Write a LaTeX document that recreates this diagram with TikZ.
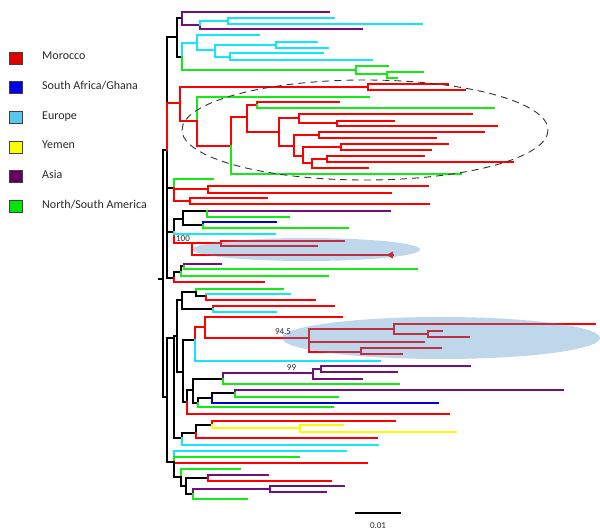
\documentclass[tikz,border=0pt]{standalone}
\usepackage{fontspec}
\setmainfont{Carlito}
\definecolor{tRed}{RGB}{255,0,0}
\definecolor{tGreen}{RGB}{20,235,20}
\definecolor{tCyan}{RGB}{20,230,250}
\definecolor{tPurple}{RGB}{112,16,122}
\definecolor{tBlue}{RGB}{0,0,210}
\definecolor{tYellow}{RGB}{255,250,0}
\definecolor{LRed}{RGB}{225,0,0}
\definecolor{LBlue}{RGB}{0,0,230}
\definecolor{LEurope}{RGB}{85,200,235}
\definecolor{LYellow}{RGB}{255,255,0}
\definecolor{LAsia}{RGB}{100,0,100}
\definecolor{LGreen}{RGB}{0,230,0}
\definecolor{txt}{RGB}{40,40,40}
\definecolor{ellfill}{RGB}{69,141,198}
\newcommand\treebr[5]{\coordinate (#3) at (#4,#5);\draw[#1] (#2) |- (#3);}
\begin{document}
\begin{tikzpicture}[x=1pt,y=-1pt,
  tbranch/.style={line width=1.8pt,line cap=rect},
  kB/.style={tbranch,draw=black},
  kR/.style={tbranch,draw=tRed},
  kG/.style={tbranch,draw=tGreen},
  kC/.style={tbranch,draw=tCyan},
  kP/.style={tbranch,draw=tPurple},
  kBl/.style={tbranch,draw=tBlue},
  kY/.style={tbranch,draw=tYellow},
  sq/.style={draw=black!75,line width=0.7pt,minimum width=13pt,minimum height=12pt,inner sep=0pt},
  lg/.style={anchor=base west,font=\fontsize{12}{14}\selectfont,text=txt,inner sep=0pt},
  num/.style={font=\fontsize{9}{10}\selectfont,text=txt,inner sep=0pt},
  hl/.style={fill=ellfill,fill opacity=0.35,draw=none}]
\useasboundingbox (0,0) rectangle (600,532);
% ---------- legend ----------
\node[sq,fill=LRed]    (sq1) at (15.8,58.2) {};
\node[sq,fill=LBlue]   (sq2) at (15.8,87.8) {};
\node[sq,fill=LEurope] (sq3) at (15.8,117.5) {};
\node[sq,fill=LYellow] (sq4) at (15.8,147.1) {};
\node[sq,fill=LAsia]   (sq5) at (15.8,176.8) {};
\node[sq,fill=LGreen]  (sq6) at (15.8,206.4) {};
\node[lg] (lg1) at (42,60) {Morocco};
\node[lg] (lg2) at (42,89.6) {South Africa/Ghana};
\node[lg] (lg3) at (42,119.3) {Europe};
\node[lg] (lg4) at (42,148.9) {Yemen};
\node[lg] (lg5) at (42,178.6) {Asia};
\node[lg] (lg6) at (42,208.2) {North/South America};
% ---------- trunk ----------
\coordinate (R) at (163,279);
\coordinate (R0) at (159,279);
\draw[kB] (R0) -- (R);
\treebr{kB}{R}{U}{167}{150}
\treebr{kB}{R}{D}{167}{397}
\treebr{kB}{U}{T}{177}{37}
\treebr{kB}{U}{M1}{174}{188}
\treebr{kB}{U}{M2}{174}{232}
\treebr{kB}{U}{L1}{174}{278}
\treebr{kR}{U}{RC}{180}{103}
% ---------- top clade ----------
\treebr{kB}{T}{T1}{182}{18}
\treebr{kB}{T}{T2}{182}{57}
\treebr{kP}{T1}{l1}{329}{12}
\treebr{kP}{T1}{T1a}{200}{25}
\treebr{kP}{T1a}{l3}{362}{29}
\treebr{kC}{T1a}{T1b}{228}{21}
\treebr{kC}{T1b}{l4}{334}{18}
\treebr{kC}{T1b}{l5}{422}{24}
\treebr{kC}{T2}{T2a}{197}{43}
\treebr{kG}{T2}{T2b}{356}{70}
\treebr{kC}{T2a}{l6}{259}{35}
\treebr{kC}{T2a}{T2c}{215}{50}
\treebr{kC}{T2c}{T2d}{276}{45}
\treebr{kC}{T2c}{T2e}{230}{57}
\treebr{kC}{T2d}{l7}{317}{42}
\treebr{kC}{T2d}{l8}{328}{48}
\treebr{kC}{T2e}{l9}{323}{53}
\treebr{kC}{T2e}{l10}{372}{60}
\treebr{kG}{T2b}{l11}{388}{66}
\treebr{kG}{T2b}{T2f}{387}{74}
\treebr{kG}{T2f}{l12}{423}{72}
\treebr{kG}{T2f}{l13}{397}{78}
% ---------- red clade ----------
\treebr{kR}{RC}{RC1}{368}{87}
\treebr{kR}{RC}{RC2}{197}{121}
\treebr{kR}{RC1}{l14}{448}{84}
\treebr{kR}{RC1}{l15}{465}{90}
\treebr{kG}{RC2}{l16}{369}{97}
\treebr{kR}{RC2}{RC3}{231}{146}
\treebr{kR}{RC3}{RC4}{247}{117}
\treebr{kG}{RC3}{l17}{461}{174}
\treebr{kR}{RC4}{RC4a}{257}{105}
\treebr{kR}{RC4}{RC5}{279}{132}
\treebr{kR}{RC4a}{l18}{339}{102}
\treebr{kG}{RC4a}{l19}{494}{108}
\treebr{kR}{RC5}{RC5a}{299}{118}
\treebr{kR}{RC5}{RC6}{294}{146}
\treebr{kR}{RC5a}{l20}{472}{114}
\treebr{kR}{RC5a}{RC5b}{337}{123}
\treebr{kR}{RC5b}{l21}{394}{121}
\treebr{kR}{RC5b}{l22}{497}{126}
\treebr{kR}{RC6}{RC6a}{319}{135}
\treebr{kR}{RC6}{RC7}{303}{156}
\treebr{kR}{RC6a}{l23}{484}{132}
\treebr{kR}{RC6a}{l24}{436}{138}
\treebr{kR}{RC7}{RC7a}{341}{147}
\treebr{kR}{RC7}{RC8}{312}{163}
\treebr{kR}{RC7a}{l25}{448}{144}
\treebr{kR}{RC7a}{l26}{431}{150}
\treebr{kR}{RC8}{RC8a}{327}{159}
\treebr{kR}{RC8}{l27}{368}{168}
\treebr{kR}{RC8a}{l28}{424}{156}
\treebr{kR}{RC8a}{l29}{513}{162}
% ---------- middle ----------
\treebr{kG}{M1}{l30}{213}{179}
\treebr{kR}{M1}{M1a}{208}{189}
\treebr{kR}{M1}{M1b}{190}{201}
\treebr{kR}{M1a}{l31}{428}{186}
\treebr{kR}{M1a}{l32}{391}{193}
\treebr{kR}{M1b}{l33}{267}{198}
\treebr{kR}{M1b}{l34}{429}{204}
\treebr{kB}{M2}{M2a}{183}{219}
\treebr{kR}{M2}{C100}{192}{243}
\treebr{kC}{M2}{l35}{275}{234}
\treebr{kB}{M2a}{M2b}{207}{211}
\treebr{kB}{M2a}{M2c}{203}{225}
\treebr{kP}{M2b}{l36}{390}{211}
\treebr{kG}{M2b}{l37}{289}{217}
\treebr{kBl}{M2c}{l38}{276}{222}
\treebr{kG}{M2c}{l39}{348}{228}
\treebr{kR}{C100}{C100a}{221}{243}
\treebr{kR}{C100}{l40}{393}{255}
\treebr{kR}{C100a}{l41}{344}{241}
\treebr{kR}{C100a}{l42}{317}{246}
\fill[tRed] (l40) -- ++(-7,0) -- ++(7,-3.5) -- cycle;
\fill[tRed] (l40) -- ++(-7,0) -- ++(7,3.5) -- cycle;
\treebr{kB}{L1}{L1a}{181}{272}
\treebr{kR}{L1}{l43}{264}{282}
\treebr{kB}{L1a}{L1b}{184}{266}
\treebr{kG}{L1a}{l44}{328}{276}
\treebr{kP}{L1b}{l45}{221}{264}
\treebr{kG}{L1b}{l46}{417}{269}
% ---------- lower ----------
\treebr{kB}{D}{D1}{174}{338}
\treebr{kB}{D}{D2}{174}{462}
\treebr{kB}{D1}{J}{177}{336}
\treebr{kB}{D1}{K}{182}{438}
\treebr{kB}{J}{E1}{182}{300}
\treebr{kB}{J}{I}{183}{372}
\treebr{kB}{E1}{E1a}{196}{292}
\treebr{kB}{E1}{E1b}{213}{309}
\treebr{kG}{E1a}{l47}{283}{289}
\treebr{kB}{E1a}{E1c}{206}{296}
\treebr{kC}{E1c}{l48}{290}{294}
\treebr{kR}{E1c}{l49}{315}{300}
\treebr{kR}{E1b}{l50}{334}{306}
\treebr{kC}{E1b}{l51}{276}{312}
\treebr{kB}{I}{F1}{195}{340}
\treebr{kB}{I}{H}{187}{402}
\treebr{kR}{F1}{F1a}{205}{327}
\treebr{kC}{F1}{l52}{380}{361}
\treebr{kR}{F1a}{l53}{342}{317}
\treebr{kR}{F1a}{E94}{309}{338}
\treebr{kR}{E94}{E94a}{394}{329}
\treebr{kR}{E94}{l54}{424}{342}
\treebr{kR}{E94}{E94b}{361}{352}
\treebr{kR}{E94a}{l55}{595}{324}
\treebr{kR}{E94a}{E94c}{428}{334}
\treebr{kR}{E94c}{l56}{442}{331}
\treebr{kR}{E94c}{l57}{469}{337}
\treebr{kR}{E94b}{l58}{441}{348}
\treebr{kR}{E94b}{l59}{402}{354}
\treebr{kB}{H}{G}{193}{390}
\treebr{kR}{H}{l60}{449}{414}
\treebr{kB}{G}{G1}{223}{379}
\treebr{kB}{G}{G2}{198}{403}
\treebr{kP}{G1}{P99}{313}{373}
\treebr{kG}{G1}{l61}{399}{384}
\treebr{kP}{P99}{P99a}{321}{369}
\treebr{kP}{P99}{l62}{362}{379}
\treebr{kP}{P99a}{l63}{470}{366}
\treebr{kP}{P99a}{l64}{397}{372}
\treebr{kB}{G2}{G2a}{212}{398}
\treebr{kG}{G2}{l65}{333}{407}
\treebr{kB}{G2a}{G2b}{235}{393}
\treebr{kBl}{G2a}{l66}{438}{403}
\treebr{kP}{G2b}{l67}{563}{390}
\treebr{kG}{G2b}{l68}{338}{397}
\treebr{kB}{K}{K1}{196}{433}
\treebr{kC}{K}{l69}{378}{445}
\treebr{kB}{K1}{K1a}{212}{425}
\treebr{kR}{K1}{l70}{377}{438}
\treebr{kR}{K1a}{l71}{395}{421}
\treebr{kY}{K1a}{Y}{300}{428}
\treebr{kY}{Y}{l72}{343}{425}
\treebr{kY}{Y}{l73}{456}{432}
\treebr{kC}{D2}{l74}{346}{451}
\treebr{kG}{D2}{l75}{299}{457}
\treebr{kR}{D2}{l76}{367}{463}
\treebr{kB}{D2}{D2a}{181}{477}
\treebr{kG}{D2a}{l77}{240}{469}
\treebr{kB}{D2a}{D2b}{186}{486}
\treebr{kB}{D2b}{D2c}{208}{478}
\treebr{kB}{D2b}{D2d}{193}{494}
\treebr{kP}{D2c}{l78}{268}{475}
\treebr{kR}{D2c}{l79}{331}{481}
\treebr{kP}{D2d}{D2e}{270}{489}
\treebr{kG}{D2d}{l80}{247}{499}
\treebr{kP}{D2e}{l81}{344}{486}
\treebr{kP}{D2e}{l82}{326}{492}
% ---------- highlights ----------
\fill[hl] (306.5,249.5) ellipse [x radius=113.5, y radius=11.5];
\fill[hl] (441,338) ellipse [x radius=159, y radius=21];
\draw[black!80,line width=0.9pt,dash pattern=on 7pt off 5pt] (365,130) ellipse [x radius=183, y radius=50];
% ---------- labels ----------
\node[num,anchor=south] (b100) at (183,241.5) {100};
\node[num] (b945) at (283,332) {94.5};
\node[num] (b99) at (291.5,368) {99};
% ---------- scale bar ----------
\coordinate (sb1) at (355,513);
\coordinate (sb2) at (401,513);
\draw[line width=2.2pt] (sb1) -- (sb2);
\node[num] (sbl) at (378,526) {0.01};
\end{tikzpicture}
\end{document}
